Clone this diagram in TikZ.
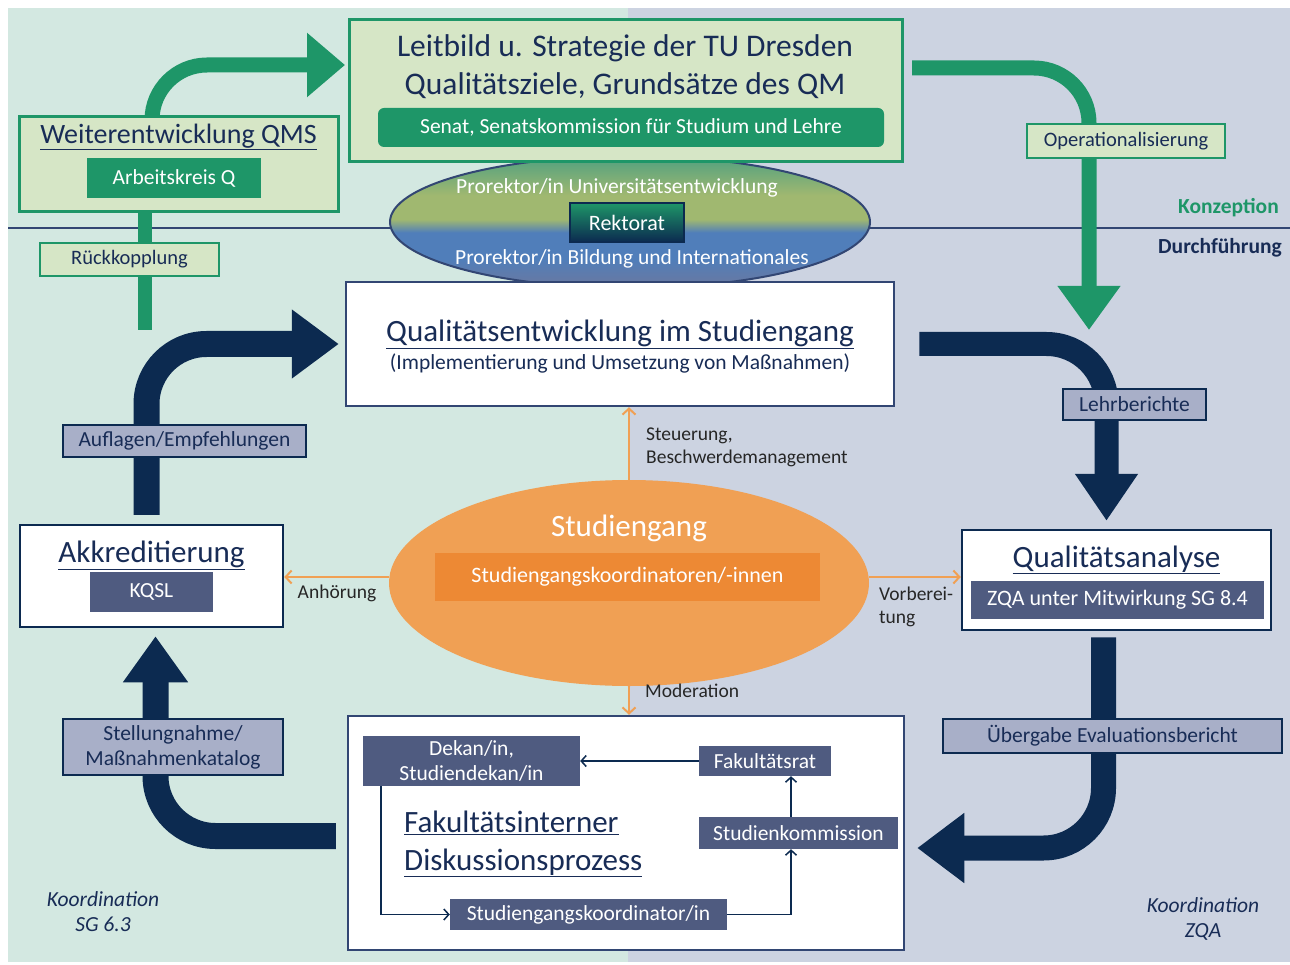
\documentclass[tikz,border=0pt]{standalone}
\usepackage{fontspec}
\setmainfont{Carlito}
\usetikzlibrary{arrows.meta,shapes.geometric}
\definecolor{bgleft}{RGB}{211,232,225}
\definecolor{bgright}{RGB}{204,211,225}
\definecolor{qgreen}{RGB}{30,150,104}
\definecolor{lgreen}{RGB}{214,230,198}
\definecolor{navy}{RGB}{12,42,80}
\definecolor{tnavy}{RGB}{24,44,86}
\definecolor{frame}{RGB}{50,70,115}
\definecolor{slate}{RGB}{79,91,128}
\definecolor{lav}{RGB}{168,175,200}
\definecolor{orlight}{RGB}{240,160,84}
\definecolor{ordark}{RGB}{237,137,52}
\definecolor{rkA}{RGB}{108,120,158}
\definecolor{rkB}{RGB}{80,126,186}
\definecolor{rkC}{RGB}{160,184,112}
\definecolor{rkD}{RGB}{80,160,128}
\pgfdeclareverticalshading{rektshade}{100bp}{color(0bp)=(rkA); color(25bp)=(rkA); color(36bp)=(rkB); color(46bp)=(rkB); color(51bp)=(rkC); color(60bp)=(rkC); color(75bp)=(rkD); color(100bp)=(rkD)}
\newcommand\fsz[2]{\fontsize{#1}{#2}\selectfont}
\begin{document}
\begin{tikzpicture}[x=1pt, y=-1pt,
  every node/.style={inner sep=0pt},
  lbox/.style={draw=qgreen, line width=3pt, fill=lgreen},
  gbox/.style={fill=qgreen, text=white, font=\fsz{21.5}{25}},
  wbox/.style={draw=frame, line width=2.5pt, fill=white},
  sbox/.style={fill=slate, text=white, font=\fsz{21.5}{25}, align=center},
  tag/.style={draw=navy, line width=2.5pt, fill=lav, text=tnavy, font=\fsz{21.5}{25}, align=center},
  gtag/.style={draw=qgreen, line width=2.5pt, fill=lgreen, text=tnavy, font=\fsz{20.5}{24}},
  title/.style={text=tnavy, font=\fsz{31}{38}},
  note/.style={text=black!85, font=\fsz{19.5}{23}, align=left},
  garrow/.style={draw=qgreen, line width=15pt, rounded corners=55pt},
  narrow/.style={draw=navy, line width=26pt, rounded corners=60pt},
  orarrow/.style={draw=orlight, line width=2pt, -{Straight Barb[length=6pt,width=13pt]}},
  thinarrow/.style={draw=navy, line width=1.5pt, -{Straight Barb[length=5pt,width=11pt]}}]
\useasboundingbox (0,0) rectangle (1290,965);
% background halves
\fill[bgleft] (8,8) rectangle (628,962);
\fill[bgright] (628,8) rectangle (1290,962);
\draw[frame, line width=1.2pt] (8,228) -- (1290,228);

% Rektorat
\node[ellipse, draw=frame, line width=2pt, shading=rektshade, minimum width=480pt, minimum height=132pt] (rekt) at (630,222) {};
\node[text=white, font=\fsz{21.5}{25}] (pru) at (617,188) {Prorektor/in Universitätsentwicklung};
\node[text=white, font=\fsz{21.5}{25}] (prb) at (632,259) {Prorektor/in Bildung und Internationales};
\node[draw=navy, line width=2pt, top color=qgreen, middle color=rkC!80!black, bottom color=navy, text=white, font=\fsz{22}{26}, minimum width=114pt, minimum height=39pt] (rektbox) at (627,222.5) {Rektorat};

% Konzeption
\draw[garrow, -{Triangle[length=38pt,width=62pt]}] (152,130) |- (345,65);
\draw[garrow, -{Triangle[length=44pt,width=60pt]}] (912,68) -| (1089,330);
\draw[qgreen, line width=14pt] (145,205) -- (145,330);
\node[lbox, minimum width=553pt, minimum height=142pt] (leit) at (625.5,91) {};
\node[title, align=center, font=\fsz{31.5}{38}] (leittext) at (625,67) {Leitbild u. Strategie der TU Dresden\\Qualitätsziele, Grundsätze des QM};
\node[gbox, rounded corners=6pt, minimum width=506pt, minimum height=39pt] (senat) at (631,127.5) {Senat, Senatskommission für Studium und Lehre};
\node[lbox, minimum width=319pt, minimum height=95pt] (qms) at (178.5,164.5) {};
\node[title, font=\fsz{28}{32}] (qmstitle) at (178.5,137) {\underline{Weiterentwicklung QMS}};
\node[gbox, minimum width=174pt, minimum height=40pt] (ak) at (174,178) {Arbeitskreis Q};
\node[gtag, minimum width=179pt, minimum height=33pt] (rueck) at (129.5,259.5) {Rückkopplung};
\node[gtag, minimum width=198pt, minimum height=34pt] (oper) at (1126,141) {Operationalisierung};
\node[text=qgreen, font=\bfseries\fsz{21.5}{25}, anchor=east] (konz) at (1279,208) {Konzeption};
\node[text=tnavy, font=\bfseries\fsz{21.5}{25}, anchor=east] (durch) at (1282,248) {Durchführung};

% Durchfuehrung
\node[wbox, minimum width=548pt, minimum height=124pt] (qsent) at (620,344) {};
\node[title] (qsenttitle) at (620,334) {\underline{Qualitätsentwicklung im Studiengang}};
\node[text=tnavy, font=\fsz{21.5}{25}] (qsentsub) at (620,363) {(Implementierung und Umsetzung von Maßnahmen)};
\node[wbox, draw=navy, minimum width=263pt, minimum height=102pt] (akk) at (151.5,576) {};
\node[title] (akktitle) at (151.5,555) {\underline{Akkreditierung}};
\node[sbox, minimum width=123pt, minimum height=40pt] (kqsl) at (151.5,592) {KQSL};
\node[wbox, draw=navy, minimum width=309pt, minimum height=100pt] (qana) at (1116.5,580) {};
\node[title] (qanatitle) at (1116.5,560) {\underline{Qualitätsanalyse}};
\node[sbox, font=\fsz{22}{26}, minimum width=293pt, minimum height=38pt] (zqa) at (1117.5,600) {ZQA unter Mitwirkung SG 8.4};
\node[wbox, minimum width=556pt, minimum height=234pt] (fak) at (626,833) {};

% Regelkreis
\draw[narrow, -{Triangle[length=47pt,width=66pt]}] ([shift={(-5pt,9pt)}]akk.north) |- ([xshift=-6pt]qsent.west);
\draw[narrow, line width=24pt, -{Triangle[length=47pt,width=60pt]}] ([xshift=24pt]qsent.east) -| ([shift={(-10pt,8pt)}]qana.north);
\draw[narrow, line width=25pt, -{Triangle[length=47pt,width=67pt]}] ([shift={(-13pt,-6pt)}]qana.south) |- ([shift={(12pt,-15pt)}]fak.east);
\draw[narrow, -{Triangle[length=46pt,width=62pt]}] ([shift={(-11pt,-3pt)}]fak.west) -| ([shift={(4pt,-8pt)}]akk.south);
\node[tag, minimum width=243pt, minimum height=32pt] (aufl) at (184.5,441) {Auflagen/Empfehlungen};
\node[tag, minimum width=143pt, minimum height=31pt] (lehr) at (1134.5,404.5) {Lehrberichte};
\node[tag, minimum width=339pt, minimum height=34pt] (ueber) at (1112.5,736) {Übergabe Evaluationsbericht};
\node[tag, minimum width=220pt, minimum height=56pt] (stell) at (173,747) {Stellungnahme/\\Maßnahmenkatalog};

% Studiengang
\node[ellipse, fill=orlight, minimum width=480pt, minimum height=206pt] (sg) at (629,583) {};
\node[text=white, font=\fsz{31}{36}] (sgtitle) at (629,528) {Studiengang};
\node[fill=ordark, text=white, font=\fsz{22}{26}, minimum width=385pt, minimum height=48pt] (sgk) at (627.5,577) {Studiengangskoordinatoren/-innen};
\draw[orarrow] (sg.north) -- (sg.north |- qsent.south);
\draw[orarrow] ([yshift=6pt]sg.west) -- ([yshift=6pt]sg.west -| akk.east);
\draw[orarrow] ([yshift=6pt]sg.east) -- ([yshift=6pt]sg.east -| qana.west);
\draw[orarrow] (sg.south) -- (sg.south |- fak.north);
\node[note, anchor=north west] (steu) at (646,428) {Steuerung,\\Beschwerdemanagement};
\node[note] (anh) at (337,593) {Anhörung};
\node[note, anchor=west] (vorb) at (879,607) {Vorberei-\\tung};
\node[note, anchor=west] (mod) at (645,691) {Moderation};

% Fakultaet
\node[sbox, minimum width=217pt, minimum height=50pt] (dek) at (471.5,761) {Dekan/in,\\Studiendekan/in};
\node[sbox, minimum width=132pt, minimum height=30pt] (frat) at (765,761) {Fakultätsrat};
\node[sbox, minimum width=199pt, minimum height=32pt] (skom) at (798.5,833) {Studienkommission};
\node[sbox, minimum width=277pt, minimum height=31pt] (sgko) at (588.5,914.5) {Studiengangskoordinator/in};
\node[title, align=left, anchor=west] (faktitle) at (404,844) {\underline{Fakultätsinterner}\\\underline{Diskussionsprozess}};
\coordinate (vx) at (791,0);
\coordinate (vd) at (381,0);
\draw[thinarrow] (frat.west) -- (dek.east);
\draw[thinarrow] (skom.north -| vx) -- (frat.south -| vx);
\draw[thinarrow] (dek.south -| vd) |- (sgko.west);
\draw[thinarrow] (sgko.east) -| (skom.south -| vx);

% Koordination
\node[text=tnavy, font=\itshape\fsz{21.5}{25}, align=center] (ksg) at (103,912) {Koordination\\SG 6.3};
\node[text=tnavy, font=\itshape\fsz{21.5}{25}, align=center] (kzqa) at (1203,919) {Koordination\\ZQA};
\end{tikzpicture}
\end{document}
